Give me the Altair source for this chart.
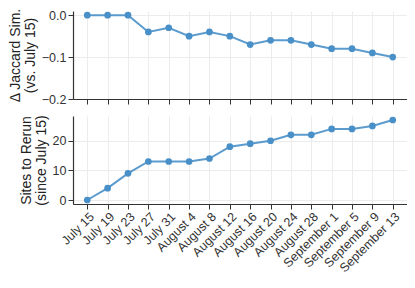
import altair as alt
import pandas as pd

dates = ["July 15", "July 19", "July 23", "July 27", "July 31", "August 4", "August 8",
         "August 12", "August 16", "August 20", "August 24", "August 28",
         "September 1", "September 5", "September 9", "September 13"]
jaccard_delta = [0.0, 0.0, 0.0, -0.04, -0.03, -0.05, -0.04, -0.05, -0.07, -0.06,
                 -0.06, -0.07, -0.08, -0.08, -0.09, -0.10]
sites_rerun = [0, 4, 9, 13, 13, 13, 14, 18, 19, 20, 22, 22, 24, 24, 25, 27]

df = pd.DataFrame({"date": dates, "jac": jaccard_delta, "sites": sites_rerun})

COLOR = "#4a90c8"
W, H = 334, 88

x_top = alt.X("date:N", sort=dates, title=None,
              scale=alt.Scale(type="point", padding=0.7),
              axis=alt.Axis(labels=False, grid=True, ticks=True, tickSize=5,
                            domainColor="#333", tickColor="#333"))
x_bot = alt.X("date:N", sort=dates, title=None,
              scale=alt.Scale(type="point", padding=0.7),
              axis=alt.Axis(labelAngle=-45, labelAlign="right", labelBaseline="top",
                            grid=True, tickSize=5, labelPadding=1,
                            domainColor="#333", tickColor="#333"))

base_top = alt.Chart(df).encode(
    x=x_top,
    y=alt.Y("jac:Q", title=["\u0394 Jaccard Sim.", "(vs. July 15)"],
            scale=alt.Scale(domain=[-0.2, 0.01], nice=False, zero=False),
            axis=alt.Axis(values=[0.0, -0.1, -0.2], format=".1f", tickSize=5,
                          domainColor="#333", tickColor="#333")),
)
top = alt.layer(
    base_top.mark_line(color=COLOR, strokeWidth=2, opacity=0.9),
    base_top.mark_point(color=COLOR, filled=True, size=45, opacity=1),
).properties(width=W, height=H)

base_bot = alt.Chart(df).encode(
    x=x_bot,
    y=alt.Y("sites:Q", title=["Sites to Rerun", "(since July 15)"],
            scale=alt.Scale(domain=[-1.35, 28.35], nice=False, zero=False),
            axis=alt.Axis(values=[0, 10, 20], tickSize=5,
                          domainColor="#333", tickColor="#333")),
)
bot = alt.layer(
    base_bot.mark_line(color=COLOR, strokeWidth=2, opacity=0.9),
    base_bot.mark_point(color=COLOR, filled=True, size=45, opacity=1),
).properties(width=W, height=H)

chart = alt.vconcat(top, bot, spacing=8).properties(
    padding={"left": 0, "top": -1, "right": 0, "bottom": 0}
).configure_view(stroke=None).configure_axis(
    labelFont="Liberation Sans", titleFont="Liberation Sans",
    labelFontSize=12.5, titleFontSize=14, titleFontWeight="normal",
    labelColor="#333", titleColor="#222", gridColor="#ececec", gridWidth=1,
    domainWidth=1.2, titlePadding=4, titleLineHeight=15,
)

chart.save("out.html", embed_options={"renderer": "svg", "actions": False})
